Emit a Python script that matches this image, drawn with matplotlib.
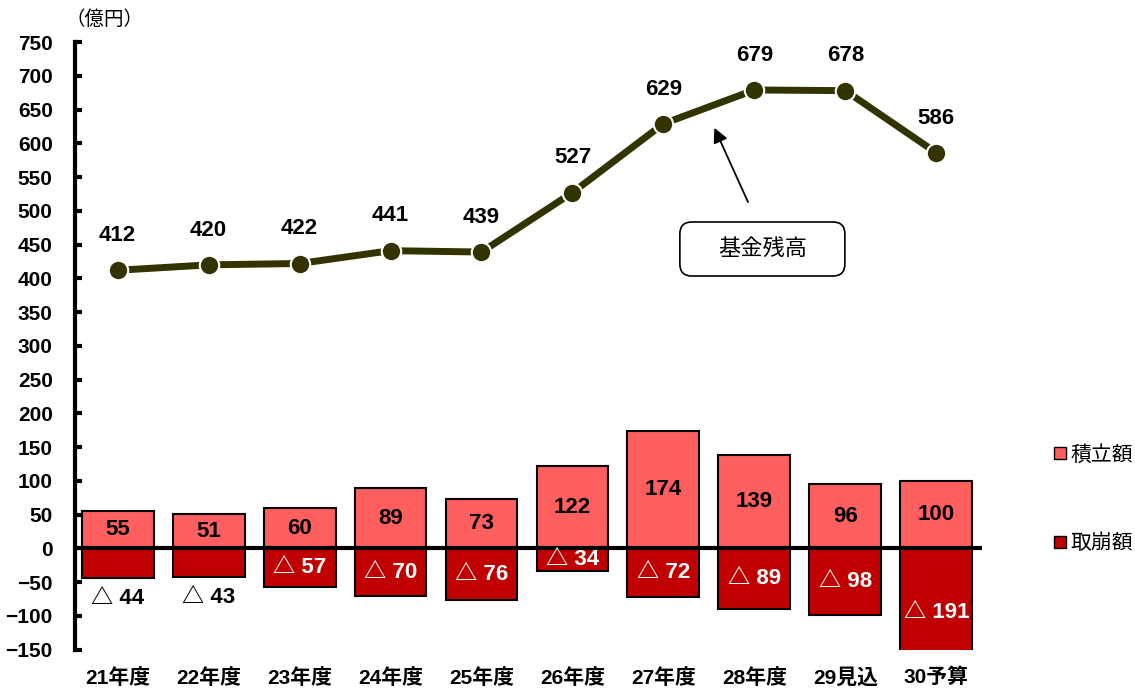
import matplotlib
matplotlib.use("Agg")
import matplotlib.pyplot as plt
from matplotlib.lines import Line2D
from matplotlib.patches import FancyBboxPatch

plt.rcParams['font.family'] = ['Liberation Sans', 'Noto Sans CJK JP', 'DejaVu Sans']

categories = ["21年度", "22年度", "23年度", "24年度", "25年度", "26年度", "27年度", "28年度", "29見込", "30予算"]
balance = [412, 420, 422, 441, 439, 527, 629, 679, 678, 586]
deposits = [55, 51, 60, 89, 73, 122, 174, 139, 96, 100]
withdrawals = [-44, -43, -57, -70, -76, -34, -72, -89, -98, -191]

x = list(range(len(categories)))

fig = plt.figure(figsize=(11.35, 6.89), dpi=100)
ax = fig.add_axes([0.066, 0.057, 0.799, 0.882])

ax.bar(x, deposits, width=0.79, color="#FF5F5F", edgecolor="black", linewidth=1.5, zorder=2)
ax.bar(x, withdrawals, width=0.79, color="#C00000", edgecolor="black", linewidth=1.5, zorder=2)
ax.axhline(0, color="black", linewidth=3, zorder=3)

ax.plot(x, balance, color="#333300", linewidth=5, marker="o", markersize=14,
        markerfacecolor="#333300", markeredgecolor="white", markeredgewidth=1.5, zorder=4)

# labels
for i, v in enumerate(balance):
    ax.annotate(str(v), (i, v), xytext=(0, 25), textcoords="offset points",
                ha="center", va="center", fontsize=16, fontweight="bold")
for i, v in enumerate(deposits):
    ax.text(i, v / 2, str(v), ha="center", va="center", fontsize=16, fontweight="bold", zorder=5)
for i, v in enumerate(withdrawals):
    if i < 2:
        ax.text(i, v - 30, "△ " + str(-v), ha="center", va="center", fontsize=16,
                fontweight="bold", color="black", zorder=5)
    else:
        ax.text(i, v / 2, "△ " + str(-v), ha="center", va="center", fontsize=16,
                fontweight="bold", color="white", zorder=5)

# callout
ax.annotate("", xy=(6.56, 623), xytext=(6.93, 513),
            arrowprops=dict(arrowstyle="-|>", color="black", lw=1.3, mutation_scale=22,
                            shrinkA=0, shrinkB=0))
box = FancyBboxPatch((0.599, 0.5994), 0.1454, 0.0784, transform=fig.transFigure,
                     boxstyle="round,pad=0,rounding_size=0.0106", mutation_aspect=1135 / 689,
                     fc="white", ec="black", lw=1.2)
fig.patches.append(box)
fig.text(0.599 + 0.1454 / 2, 0.5994 + 0.0784 / 2, "基金残高", ha="center", va="center", fontsize=16)

ax.set_ylim(-150, 750)
ax.set_xlim(-0.47, 9.5)
ax.set_yticks(range(-150, 751, 50))
ax.set_xticks(x)
ax.set_xticklabels(categories)
for lbl in ax.get_xticklabels() + ax.get_yticklabels():
    lbl.set_fontweight("bold")
    lbl.set_fontsize(15)
ax.tick_params(axis="x", length=0, pad=13)
ax.tick_params(axis="y", direction="in", length=5, width=3, pad=16)
for s in ["top", "right", "bottom"]:
    ax.spines[s].set_visible(False)
ax.spines["left"].set_linewidth(3)

fig.text(0.058, 0.972, "（億円）", fontsize=14, ha="left", va="center")

handles = [
    Line2D([], [], marker="s", linestyle="none", markersize=8, markerfacecolor="#FF5F5F", markeredgecolor="black"),
    Line2D([], [], marker="s", linestyle="none", markersize=8, markerfacecolor="#C00000", markeredgecolor="black"),
]
fig.legend(handles, ["積立額", "取崩額"], loc="center left", bbox_to_anchor=(0.91, 0.276),
           frameon=False, fontsize=15, labelspacing=3.3, handletextpad=0.1, handlelength=0.8)

fig.savefig("out.png", dpi=100)
